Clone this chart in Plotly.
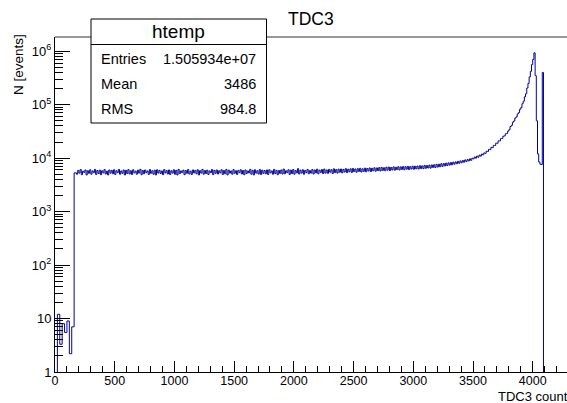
import plotly.graph_objects as go

# ---------------- data ----------------
# bins 0..180, width 20
low_start, low_width = 0, 20
counts_low = [0, 12, 3.3, 8, 5.5, 9, 2.2, 7, 5300]

# bins 180..3000, width 10 (plateau)
flat_start, flat_width = 180, 10
counts_flat = [
    5000, 5900, 5250, 6100, 4900, 5700, 5400, 6000, 4850, 5800,
    5200, 6050, 5000, 5750, 5350, 6150, 4950, 5850, 5150, 5950,
    4900, 5800, 5300, 6100, 5050, 5700, 4850, 6000, 5250, 5900,
    5100, 6050, 4950, 5800, 5350, 6150, 5000, 5750, 5200, 6000,
    4850, 5900, 5150, 6100, 5050, 5800, 4950, 6050, 5300, 5700,
    5000, 5950, 5250, 6150, 4900, 5850, 5100, 6000, 5350, 5750,
    4950, 6100, 5200, 5800, 5000, 5950, 4850, 6050, 5250, 5900,
    5150, 5750, 4900, 6100, 5300, 5850, 5050, 6000, 4950, 5800,
    5250, 6050, 5000, 5900, 4850, 6150, 5150, 5750, 5350, 5950,
    4900, 5850, 5200, 6100, 5050, 5700, 4950, 6000, 5300, 5900,
    5100, 6050, 4850, 5800, 5250, 6150, 5000, 5850, 5150, 5950,
    4950, 5750, 5350, 6100, 4900, 5900, 5200, 6000, 5050, 5800,
    5300, 6050, 4950, 5850, 5100, 6150, 4850, 5950, 5250, 5750,
    5000, 6100, 5200, 5800, 4950, 5900, 5350, 6050, 5050, 5850,
    4900, 6000, 5150, 5750, 5300, 6150, 5000, 5900, 4850, 6050,
    5250, 5800, 5050, 6100, 4950, 5950, 5200, 5850, 5100, 6000,
    4950, 6050, 5300, 5750, 5000, 6150, 5150, 5900, 4900, 5850,
    5200, 6000, 5050, 6250, 5100, 5800, 5350, 6050, 4950, 5950,
    5150, 6100, 5000, 5850, 5300, 6350, 5050, 5950, 5250, 6050,
    5000, 5900, 5350, 6150, 5100, 5850, 5250, 6100, 5050, 6000,
    5300, 6200, 5100, 5950, 5400, 6100, 5150, 6250, 5250, 6000,
    5200, 6150, 5450, 6050, 5150, 6300, 5350, 6100, 5250, 6200,
    5450, 6250, 5300, 6150, 5500, 6350, 5350, 6200, 5550, 6300,
    5400, 6400, 5600, 6250, 5450, 6350, 5650, 6450, 5500, 6300,
    5650, 6500, 5550, 6400, 5750, 6550, 5600, 6450, 5800, 6600,
    5700, 6550, 5850, 6650, 5750, 6700, 5900, 6600, 5800, 6750,
    5950, 6800, 5850, 6700, 6000, 6850, 5950, 6750, 6100, 6900,
    6000, 6850, 6150, 6950, 6050, 6900, 6200, 7000, 6100, 6950,
    6250, 7050,
]

# bins 3000..3800, width 10 (rising edge)
rise_start, rise_width = 3000, 10
counts_rise = [
    6200, 7050, 6300, 7100, 6250, 7200, 6400, 7150, 6350, 7300,
    6450, 7250, 6550, 7400, 6500, 7450, 6700, 7500, 6650, 7650,
    6800, 7700, 6900, 7850, 7000, 7900, 7150, 8050, 7250, 8150,
    7400, 8250, 7500, 8400, 7700, 8500, 7850, 8700, 8000, 8850,
    8200, 9000, 8400, 9250, 8600, 9400, 8850, 9700, 9100, 9950,
    9700, 10500, 10000, 10900, 10400, 11400, 10900, 11900, 11500, 12500,
    12300, 13500, 13300, 14600, 14400, 15900, 15700, 17300, 17200, 19000,
    19000, 21000, 21000, 23200, 23300, 25700, 26000, 28500, 29000, 32000,
]

# bins 3800..4100, width 10 (steep part, peak, drop, last spike)
end_start, end_width = 3800, 10
counts_end = [
    34000, 39000, 41000, 47000, 49500, 56000, 59000, 67000, 71000, 82000,
    88000, 104000, 116000, 140000, 160000, 205000, 250000, 330000, 420000, 560000,
    700000, 930000, 350000, 50000, 12000, 8500, 7700, 7600, 400000, 0,
]
empty_until = 4300      # empty bins after the spike

x_tick_vals = [0, 500, 1000, 1500, 2000, 2500, 3000, 3500, 4000]
x_tick_text = ["0", "500", "1000", "1500", "2000", "2500", "3000", "3500", "4000"]
y_tick_vals = [1, 10, 100, 1e3, 1e4, 1e5, 1e6]
y_tick_text = ["1", "10", "10<sup>2</sup>", "10<sup>3</sup>", "10<sup>4</sup>",
               "10<sup>5</sup>", "10<sup>6</sup>"]

hist_name = "htemp"
title_text = "TDC3"
x_title = "TDC3 counts"
y_title = "N [events]"
stats_rows = [("Entries", "1.505934e+07"), ("Mean", "3486"), ("RMS", "984.8")]

# ---------------- build the step line ----------------
segments = [
    (low_start, low_width, counts_low),
    (flat_start, flat_width, counts_flat),
    (rise_start, rise_width, counts_rise),
    (end_start, end_width, counts_end),
]
floor = 1e-3  # empty bins are drawn below the log axis
xs, ys = [], []
for start, width, vals in segments:
    for i, c in enumerate(vals):
        xs.append(start + i * width)
        ys.append(c if c > 0 else floor)
last_edge = end_start + len(counts_end) * end_width
xs += [last_edge, empty_until]
ys += [floor, floor]

W, H = 567, 403
ML, MR, MT, MB = 55, 0, 37, 31
PW, PH = W - ML - MR, H - MT - MB


def xp(px):
    return (px - ML) / PW


def yp(py):
    return (H - MB - py) / PH


FONT = "Liberation Sans, Arial, Helvetica, sans-serif"

fig = go.Figure()
fig.add_trace(go.Scatter(
    x=xs, y=ys, mode="lines", line=dict(shape="hv", color="#000099", width=1),
    hoverinfo="skip", showlegend=False,
))

minor_y = [k * 10 ** d for d in range(0, 7) for k in range(2, 10)]

fig.update_layout(
    width=W, height=H,
    margin=dict(l=ML, r=MR, t=MT, b=MB, pad=0),
    paper_bgcolor="white", plot_bgcolor="white",
    font=dict(family=FONT, color="black", size=13),
    showlegend=False,
    xaxis=dict(
        range=[0, 4287], showgrid=False, zeroline=False,
        showline=True, linecolor="black", linewidth=1,
        ticks="inside", ticklen=11, tickcolor="black", tickwidth=1,
        tickmode="array", tickvals=x_tick_vals, ticktext=x_tick_text,
        tickfont=dict(size=12.5, family=FONT),
        ticklabelstandoff=-3,
        minor=dict(dtick=100, ticks="inside", ticklen=6, tickcolor="black", showgrid=False),
    ),
    yaxis=dict(
        type="log", range=[0, 6.265], showgrid=False, zeroline=False,
        showline=True, linecolor="black", linewidth=1,
        ticks="inside", ticklen=15, tickcolor="black", tickwidth=1,
        tickmode="array", tickvals=y_tick_vals, ticktext=y_tick_text,
        tickfont=dict(size=13, family=FONT),
        minor=dict(tickmode="array", tickvals=minor_y, ticks="inside", ticklen=8,
                   tickcolor="black", showgrid=False),
    ),
)

shapes = [
    dict(type="line", xref="paper", yref="paper", x0=0, x1=1, y0=1, y1=1,
         line=dict(color="#333333", width=1), layer="above"),
    dict(type="rect", xref="paper", yref="paper", x0=xp(91), x1=xp(266.5),
         y0=yp(123), y1=yp(19), fillcolor="white",
         line=dict(color="black", width=1), layer="above"),
    dict(type="line", xref="paper", yref="paper", x0=xp(91), x1=xp(266.5),
         y0=yp(44.5), y1=yp(44.5), line=dict(color="black", width=1), layer="above"),
]
fig.update_layout(shapes=shapes)

ann = []
ann.append(dict(text=hist_name, x=xp(178.5), y=yp(31.5), xref="paper", yref="paper",
                xanchor="center", yanchor="middle", showarrow=False,
                font=dict(size=19, family=FONT)))
row_y = [58.5, 83.5, 108.5]
for (lab, val), ry in zip(stats_rows, row_y):
    ann.append(dict(text=lab, x=xp(98.5), y=yp(ry), xref="paper", yref="paper",
                    xanchor="left", yanchor="middle", showarrow=False,
                    font=dict(size=14.5, family=FONT)))
    ann.append(dict(text=val, x=xp(258), y=yp(ry), xref="paper", yref="paper",
                    xanchor="right", yanchor="middle", showarrow=False,
                    font=dict(size=14.5, family=FONT)))
ann.append(dict(text=title_text, x=xp(311), y=yp(19), xref="paper", yref="paper",
                xanchor="center", yanchor="middle", showarrow=False,
                font=dict(size=17.5, family=FONT)))
ann.append(dict(text=y_title, x=xp(18.5), y=yp(64.5), xref="paper", yref="paper",
                xanchor="center", yanchor="middle", textangle=-90, showarrow=False,
                font=dict(size=13.5, family=FONT)))
ann.append(dict(text=x_title, x=xp(495.5), y=yp(396), xref="paper", yref="paper",
                xanchor="left", yanchor="middle", showarrow=False,
                font=dict(size=13, family=FONT)))
fig.update_layout(annotations=ann)

fig.write_html("out.html")
